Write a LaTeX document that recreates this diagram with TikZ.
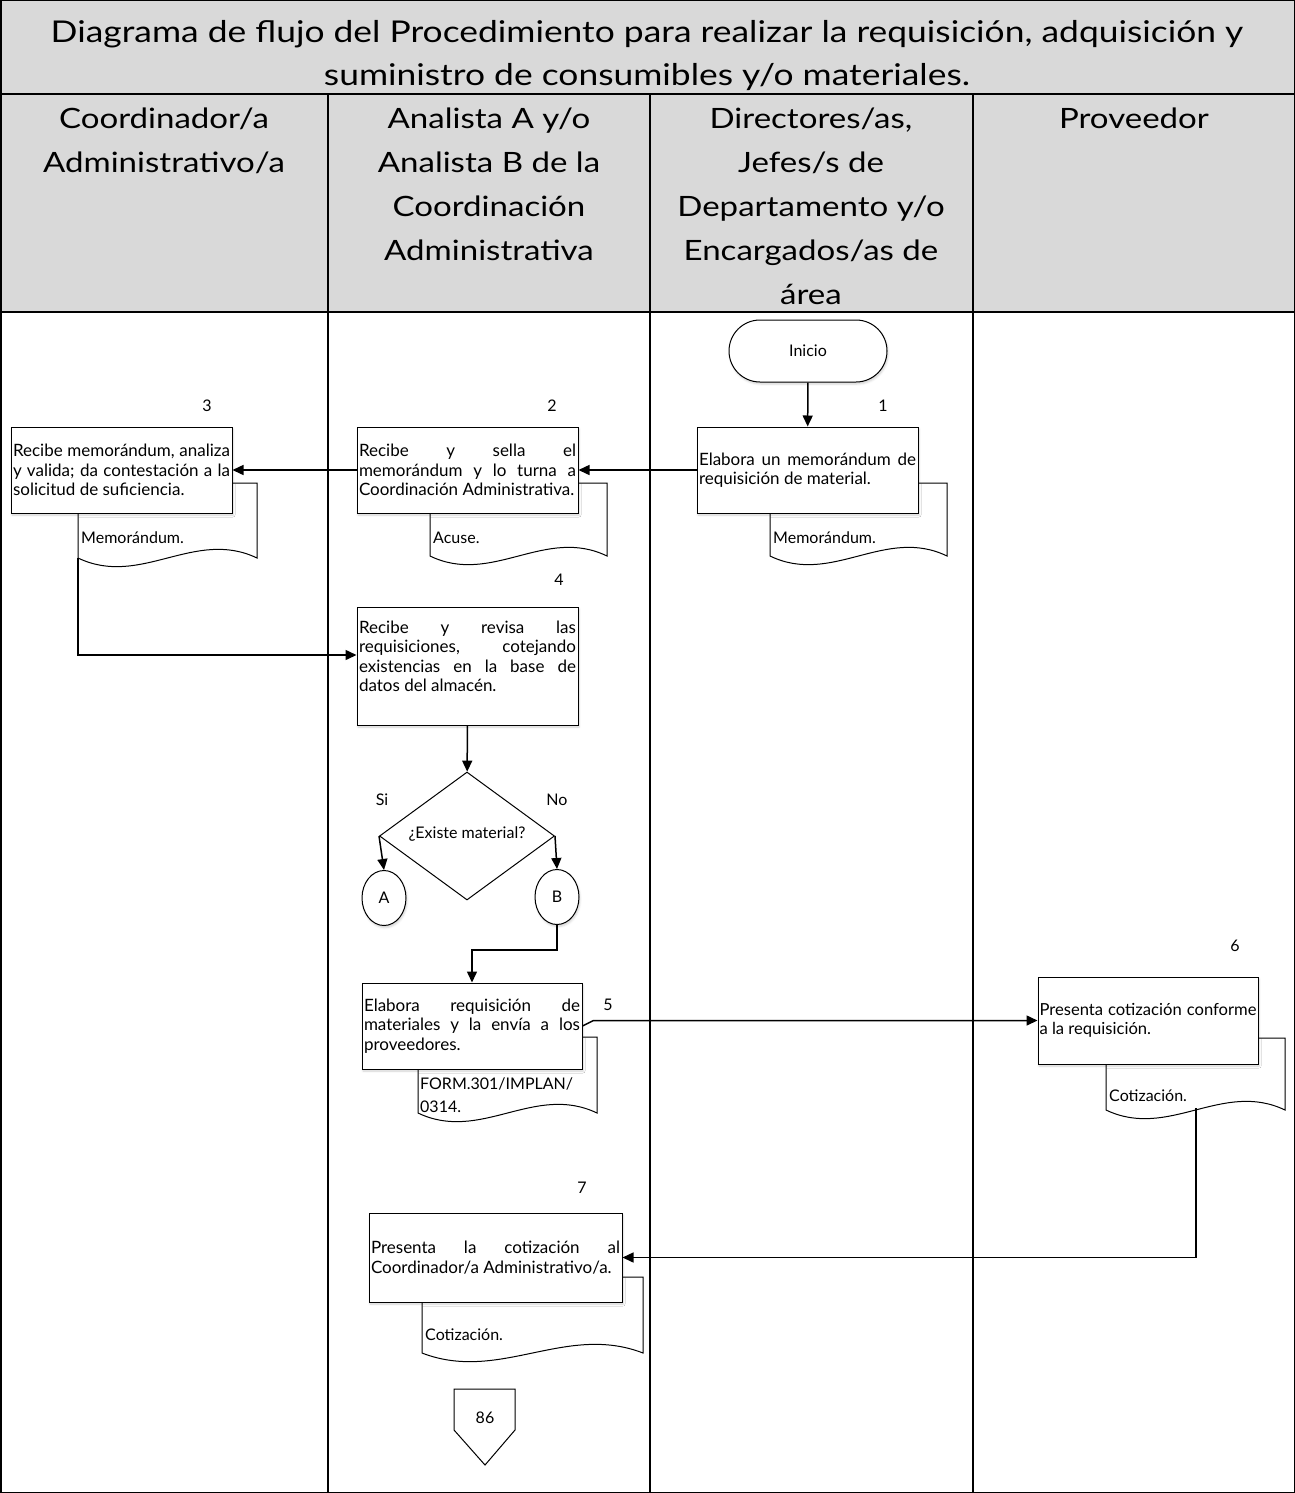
\documentclass[tikz,border=0pt]{standalone}
\usepackage{fontspec}
\setmainfont{Lato}
\newfontfamily\widefont[FakeStretch=1.18]{Lato}
\usetikzlibrary{positioning, arrows.meta, shapes.geometric, shadows.blur}

\newcommand{\boxtxt}{\fontsize{17}{19.5}\selectfont\hyphenpenalty=10000\exhyphenpenalty=10000}
\newcommand{\bodytxt}{\fontsize{16}{19}\selectfont}
\newcommand{\headtxt}{\widefont\fontsize{28}{44}\selectfont}
\newcommand{\titletxt}{\widefont\fontsize{30}{43}\selectfont}

% document symbol with wavy bottom edge
\newcommand{\docshape}[4]{%
  \draw[docline] (#1,#2) -- (#3,#2) -- (#3,#4)
    .. controls ({#3-0.35*(#3-#1)},{#4-30}) and ({#1+0.35*(#3-#1)},{#4+30}) .. (#1,#4) -- cycle;}

\begin{document}
\begin{tikzpicture}[
    x=1pt, y=-1pt,
    lane/.style={line width=1.5pt},
    head/.style={align=center, font=\headtxt, anchor=north, inner sep=0pt},
    actbox/.style={draw, fill=white, line width=1pt, font=\boxtxt, align=justify,
                   inner sep=2pt, text width=#1,
                   blur shadow={shadow xshift=1pt, shadow yshift=-2pt, shadow opacity=18}},
    actbox/.default=217pt,
    docline/.style={draw, fill=white, line width=1pt},
    doctxt/.style={font=\bodytxt, anchor=west, align=left, inner sep=0pt},
    stepno/.style={font=\bodytxt},
    flow/.style={line width=1.5pt, -{Triangle[length=11pt, width=10pt]}},
    conn/.style={draw, ellipse, line width=1pt, minimum width=44pt, minimum height=55pt,
                 inner sep=0pt, font=\bodytxt, fill=white,
                 blur shadow={shadow xshift=1pt, shadow yshift=-2pt, shadow opacity=18}}
]
\useasboundingbox (0,0) rectangle (1295,1493);

% swimlane frame
\fill[gray!30] (0,0) rectangle (1295,312);
\draw[lane] (0.75,0.75) rectangle (1294.25,1492.25);
\draw[lane] (0,94) -- (1295,94);
\draw[lane] (0,312) -- (1295,312);
\foreach \lx in {328, 650, 973}
  \draw[lane] (\lx,94) -- (\lx,1493);

\node[align=center, font=\titletxt] (title) at (647,56)
  {Diagrama de flujo del Procedimiento para realizar la requisición, adquisición y\\
   suministro de consumibles y/o materiales.};
\node[head] (h1) at (164,108) {Coordinador/a\\Administrativo/a};
\node[head] (h2) at (489,108) {Analista A y/o\\Analista B de la\\Coordinación\\Administrativa};
\node[head] (h3) at (811,108) {Directores/as,\\Jefes/s de\\Departamento y/o\\Encargados/as de\\área};
\node[head] (h4) at (1134,108) {Proveedor};

% documents (behind the boxes)
\docshape{770}{483}{947}{556}
\docshape{430}{483}{607}{556}
\docshape{78}{483}{257}{558}
\docshape{418}{1037}{597}{1113}
\docshape{1106}{1038}{1285}{1110}
\docshape{422}{1277}{643}{1353}
\node[doctxt] (memo1) at (773,538) {Memorándum.};
\node[doctxt] (acuse2) at (433,538) {Acuse.};
\node[doctxt] (memo3) at (81,538) {Memorándum.};
\node[doctxt, anchor=north west, font=\fontsize{16}{23}\selectfont] (form5) at (420,1078) {FORM.301/IMPLAN/\\0314.};
\node[doctxt] (coti6) at (1109,1096) {Cotización.};
\node[doctxt] (coti7) at (425,1335) {Cotización.};
\coordinate (out3) at (78,558);
\coordinate (out6) at (1196,1108);

% activities
\node[draw, fill=white, line width=1pt, rounded corners=31pt, minimum width=158pt,
      minimum height=62pt, font=\bodytxt,
      blur shadow={shadow xshift=1pt, shadow yshift=-2pt, shadow opacity=18}] (inicio) at (808,351) {Inicio};
\node[actbox, minimum height=86pt] (act1) at (807.5,470)
  {Elabora un memorándum de requisición de material.};
\node[actbox, minimum height=86pt] (act2) at (467.5,470)
  {Recibe y sella el memorándum y lo turna a Coordinación Administrativa.};
\node[actbox, minimum height=86pt] (act3) at (121.5,470)
  {Recibe memorándum, analiza y valida; da contestación a la solicitud de suficiencia.};
\node[actbox, minimum height=118pt] (act4) at (467.5,666)
  {Recibe y revisa las requisiciones, cotejando existencias en la base de datos del almacén.\par\rule{0pt}{0pt}};
\node[draw, diamond, line width=1pt, minimum width=175pt, minimum height=128pt,
      inner sep=0pt, fill=white] (decision) at (467,836) {};
\node[font=\bodytxt] (declbl) at (467,834) {¿Existe material?};
\node[font=\bodytxt] (si) at (382,800) {Si};
\node[font=\bodytxt] (no) at (557,800) {No};
\node[conn] (conA) at (384,898) {A};
\node[conn] (conB) at (557,897) {B};
\node[actbox=216pt, minimum height=86pt] (act5) at (472,1026)
  {Elabora requisición de materiales y la envía a los proveedores.};
\node[actbox=217pt, minimum height=87pt, inner sep=1.5pt,
      font=\fontsize{16.6}{19.5}\selectfont] (act6) at (1148,1020.5)
  {Presenta cotización conforme a la requisición.};
\node[actbox=249pt, minimum height=89pt] (act7) at (495.5,1257.5)
  {Presenta la cotización al Coordinador/a Administrativo/a.};
\draw[line width=1pt, fill=white] (454,1389) -- (515,1389) -- (515,1430) -- (485,1465)
  -- (454,1430) -- cycle;
\node[font=\bodytxt] (off86) at (485,1418) {86};

% step numbers
\node[stepno] (n1) at (883,406) {1};
\node[stepno] (n2) at (552,406) {2};
\node[stepno] (n3) at (207,406) {3};
\node[stepno] (n4) at (559,580) {4};
\node[stepno] (n5) at (608,1005) {5};
\node[stepno] (n6) at (1235,946) {6};
\node[stepno] (n7) at (582,1188) {7};

% connectors
\draw[flow] (inicio) -- (act1);
\draw[flow] (act1.west) -- (act2.east);
\draw[flow] (act2.west) -- (act3.east);
\draw[flow] (out3) |- ([yshift=11pt]act4.west);
\draw[flow] (act4) -- (decision);
\draw[flow] (decision.west) -- (conA.north);
\draw[flow] (decision.east) -- (conB.north);
\draw[flow] (conB.south) -- ++(0,25) -| (act5.north);
\draw[flow] (act5.east) -- ([xshift=11pt]act5.east |- act6.west) -- (act6.west);
\draw[flow] (out6) |- (act7.east);
\end{tikzpicture}
\end{document}
